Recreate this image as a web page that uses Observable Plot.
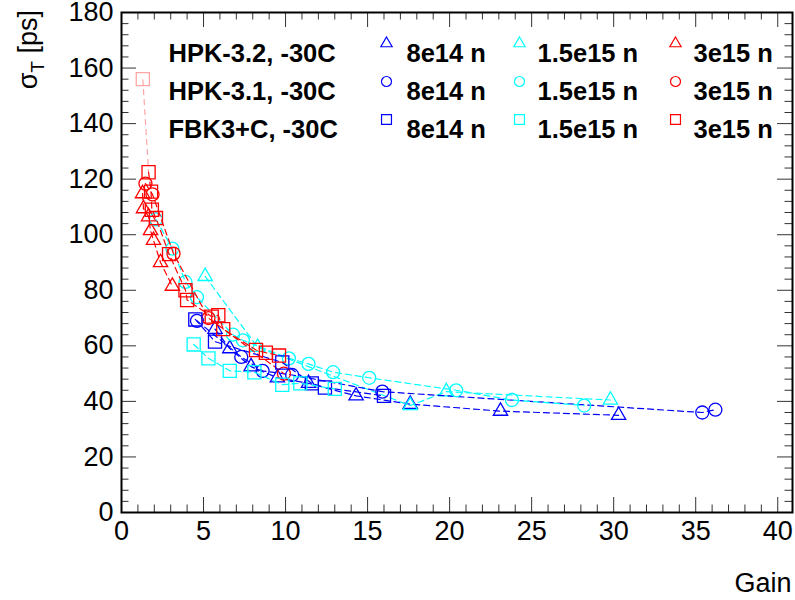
<!DOCTYPE html>
<html><head><meta charset="utf-8">
<script src="https://cdn.jsdelivr.net/npm/d3@7"></script>
<script src="https://cdn.jsdelivr.net/npm/@observablehq/plot@0.6"></script>
<style>body{margin:0;background:#fff;} #chart{width:795px;height:600px;}</style>
</head><body><div id="chart"></div>
<script>
// ---- data ----
const sensors = ["HPK-3.2, -30C", "HPK-3.1, -30C", "FBK3+C, -30C"];
const fluences = ["8e14 n", "1.5e15 n", "3e15 n"];
const xTicks = [0, 5, 10, 15, 20, 25, 30, 35, 40];
const yTicks = [0, 20, 40, 60, 80, 100, 120, 140, 160, 180];

// HPK-3.2 (triangles)
const hpk32_8e14_gain  = [5.7, 6.6, 7.9, 9.5, 11.4, 14.3, 17.6, 23.1, 30.3];
const hpk32_8e14_sigma = [66, 59, 52.5, 48.5, 46.5, 42, 39, 36.5, 35];
const hpk32_15e15_gain  = [5.1, 8.3, 17.6, 19.8, 29.8];
const hpk32_15e15_sigma = [85, 59.5, 38.5, 43.5, 40.5];
const hpk32_3e15_gain  = [1.28, 1.34, 1.65, 1.77, 1.95, 2.38, 3.1];
const hpk32_3e15_sigma = [114.8, 109.4, 106.5, 101.5, 98, 90, 81.5];
// HPK-3.1 (circles)
const hpk31_8e14_gain  = [4.6, 7.3, 8.6, 10.4, 15.9, 35.4, 36.2];
const hpk31_8e14_sigma = [69, 56, 51, 49.5, 43.5, 36, 37];
const hpk31_15e15_gain  = [2.1, 3.1, 3.9, 4.6, 6.8, 7.4, 10.2, 11.4, 12.9, 15.1, 20.4, 23.8, 28.2];
const hpk31_15e15_sigma = [105.5, 95, 83, 77.5, 64, 62, 55.5, 53.5, 50.5, 48.5, 44, 40.5, 38.5];
const hpk31_3e15_gain  = [1.46, 1.89, 3.17, 5.3, 9.9];
const hpk31_3e15_sigma = [118.4, 114.5, 93.2, 70, 50];
// FBK3+C (squares)
const fbk_8e14_gain  = [4.5, 5.7, 9.8, 11.6, 12.4, 16];
const fbk_8e14_sigma = [69.5, 61.5, 54, 46.5, 45, 42];
const fbk_15e15_gain  = [4.4, 5.3, 6.6, 8.1, 9.8, 10.9, 13];
const fbk_15e15_sigma = [60.5, 55.5, 51, 50.5, 46, 46.5, 44.5];
const fbk_3e15_gain  = [1.3, 1.65, 1.8, 1.85, 2.1, 2.9, 3.9, 4.0, 5.5, 5.9, 6.2, 8.2, 8.8, 9.6];
const fbk_3e15_sigma = [156, 122.5, 115.5, 109, 106, 93, 80, 76.5, 70.5, 71, 66, 58.5, 57.5, 56.5];

// ---- styling / layout ----
const colors = ["#0000ff", "#00ffff", "#ff0000"];
const symbols = ["triangle", "circle", "square"];
const symR = [5.3, 6.5, 7.4];      // per-symbol radius so visual sizes match
const legR = [4.2, 5.0, 5.6];
const W = 795, H = 600, mL = 121, mR = 3, mT = 12, mB = 88;
const plotW = W - mL - mR, plotH = H - mT - mB;

const series = [
  {s: 0, f: 0, g: hpk32_8e14_gain, v: hpk32_8e14_sigma},
  {s: 0, f: 1, g: hpk32_15e15_gain, v: hpk32_15e15_sigma},
  {s: 0, f: 2, g: hpk32_3e15_gain, v: hpk32_3e15_sigma},
  {s: 1, f: 0, g: hpk31_8e14_gain, v: hpk31_8e14_sigma},
  {s: 1, f: 1, g: hpk31_15e15_gain, v: hpk31_15e15_sigma},
  {s: 1, f: 2, g: hpk31_3e15_gain, v: hpk31_3e15_sigma},
  {s: 2, f: 0, g: fbk_8e14_gain, v: fbk_8e14_sigma},
  {s: 2, f: 1, g: fbk_15e15_gain, v: fbk_15e15_sigma},
  {s: 2, f: 2, g: fbk_3e15_gain, v: fbk_3e15_sigma, faintFirst: true}
];

const marks = [];
for (const sr of series) {
  const pts = sr.g.map((g, i) => ({gain: g, sigma: sr.v[i], i}));
  const col = colors[sr.f];
  const dash = {stroke: col, strokeWidth: 1.2, strokeDasharray: "6,4"};
  if (sr.faintFirst) {
    marks.push(Plot.link([[pts[0], pts[1]]], {x1: d => d[0].gain, y1: d => d[0].sigma, x2: d => d[1].gain, y2: d => d[1].sigma, ...dash, strokeOpacity: 0.35}));
    marks.push(Plot.line(pts.slice(1), {x: "gain", y: "sigma", ...dash}));
  } else {
    marks.push(Plot.line(pts, {x: "gain", y: "sigma", ...dash}));
  }
  marks.push(Plot.dot(pts, {x: "gain", y: "sigma", symbol: symbols[sr.s], r: symR[sr.s], stroke: col, strokeWidth: 1.3, fill: "none",
    strokeOpacity: sr.faintFirst ? (d => d.i === 0 ? 0.35 : 1) : 1}));
}

// ticks (ROOT style, inside frame, all four sides)
const xMinor = d3.range(0, 41, 1).filter(d => d % 5 !== 0);
const yMinor = d3.range(0, 181, 4).filter(d => d % 20 !== 0);
const tickStyle = {stroke: "#333", strokeWidth: 1};
const tMaj = 15, tMin = 7.5, tMajY = 15, tMinY = 7.5;
const ticks = [
  Plot.ruleX(xTicks, {x: d => d, ...tickStyle, insetTop: plotH - tMaj}),
  Plot.ruleX(xMinor, {x: d => d, ...tickStyle, insetTop: plotH - tMin}),
  Plot.ruleX(xTicks, {x: d => d, ...tickStyle, insetBottom: plotH - tMaj}),
  Plot.ruleX(xMinor, {x: d => d, ...tickStyle, insetBottom: plotH - tMin}),
  Plot.ruleY(yTicks, {y: d => d, ...tickStyle, insetRight: plotW - tMajY}),
  Plot.ruleY(yMinor, {y: d => d, ...tickStyle, insetRight: plotW - tMinY}),
  Plot.ruleY(yTicks, {y: d => d, ...tickStyle, insetLeft: plotW - tMajY}),
  Plot.ruleY(yMinor, {y: d => d, ...tickStyle, insetLeft: plotW - tMinY})
];

// legend (inside the frame, top area)
const rowDy = [31, 69, 107];
const markDx = [265, 398, 554];
const labDx = [285, 416, 572];
const legend = [];
sensors.forEach((name, r) => {
  legend.push(Plot.text([name], {frameAnchor: "top-left", dx: 47, dy: rowDy[r], text: d => d, textAnchor: "start", fontWeight: "bold", fontSize: 25.5, fill: "#000"}));
  fluences.forEach((fl, c) => {
    legend.push(Plot.dot([fl], {frameAnchor: "top-left", dx: markDx[c], dy: rowDy[r], symbol: symbols[r], r: legR[r], stroke: colors[c], strokeWidth: 1.2, fill: "none"}));
    legend.push(Plot.text([fl], {frameAnchor: "top-left", dx: labDx[c], dy: rowDy[r], text: d => d, textAnchor: "start", fontWeight: "bold", fontSize: 25.5, fill: "#000"}));
  });
});

const plot = Plot.plot({
  width: W, height: H,
  marginLeft: mL, marginRight: mR, marginTop: mT, marginBottom: mB,
  x: {domain: [0, 40.9]},
  y: {domain: [0, 180]},
  style: {fontFamily: "'Liberation Sans', Arial, Helvetica, sans-serif", fontSize: "27px", color: "#000", background: "#fff", overflow: "visible"},
  marks: [
    ...ticks,
    Plot.axisX(xTicks, {tickSize: 0, tickPadding: 8, label: null, fill: "#000"}),
    Plot.axisY(yTicks, {tickSize: 0, tickPadding: 8, label: null, fill: "#000"}),
    ...marks,
    ...legend,
    Plot.text(["Gain"], {frameAnchor: "bottom-right", dx: -1, dy: 79, text: d => d, textAnchor: "end", lineAnchor: "bottom", fontSize: 27, fill: "#000"}),
    Plot.frame({stroke: "#000", strokeWidth: 2})
  ]
});
document.getElementById("chart").appendChild(plot);

// y-axis title with subscript
const svg = d3.select(plot);
const t = svg.append("text")
  .attr("transform", "translate(37,10) rotate(-90)")
  .attr("text-anchor", "end")
  .attr("font-size", 27)
  .attr("fill", "#000");
t.append("tspan").text("σ");
t.append("tspan").attr("font-size", 19).attr("dy", 7).text("T");
t.append("tspan").attr("dy", -7).text(" [ps]");
</script>
</body></html>
